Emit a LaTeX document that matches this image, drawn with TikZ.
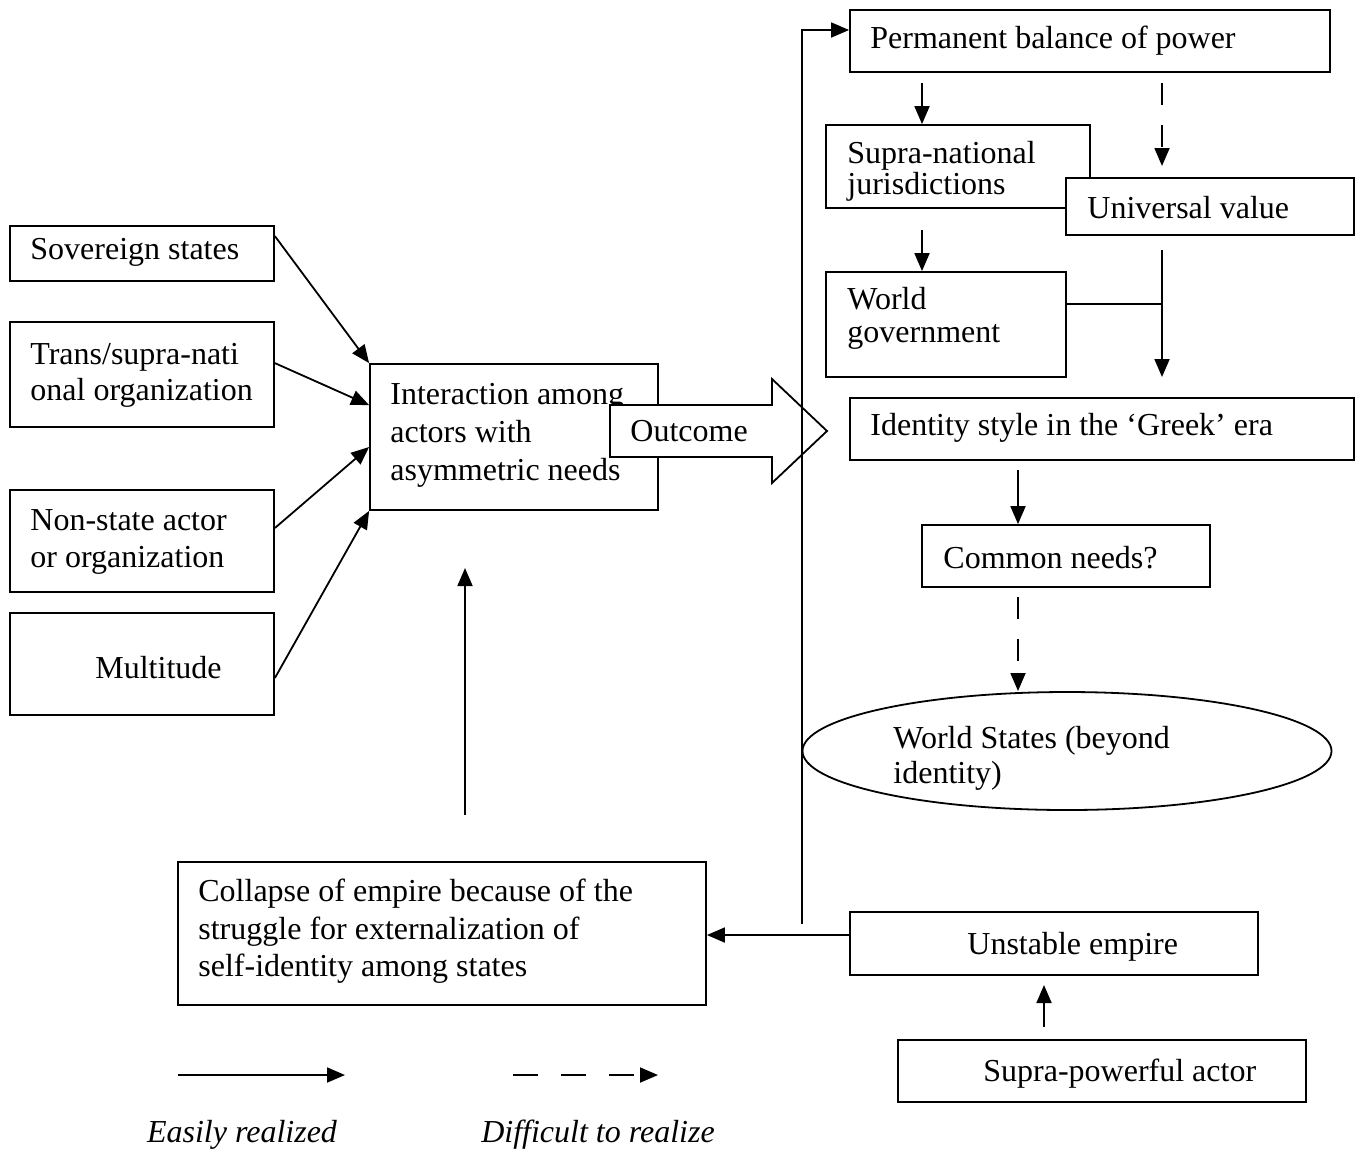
\documentclass[tikz,border=0pt]{standalone}
\usepackage{fontspec}
\setmainfont{Liberation Serif}
\usetikzlibrary{arrows.meta,shapes.geometric,calc}
\begin{document}
\begin{tikzpicture}[x=0.5pt,y=-0.5pt,
  box/.style={draw,line width=0.9pt,fill=white,inner sep=0pt},
  txt/.style={inner sep=0pt,anchor=west,align=left,yshift=-1.8pt,font=\fontsize{16}{19}\selectfont},
  conn/.style={line width=0.9pt},
  arr/.style={line width=0.9pt,-{Triangle[length=9pt,width=7.5pt]}},
  darr/.style={arr,dash pattern=on 11pt off 10pt},
  ldarr/.style={arr,dash pattern=on 12.5pt off 11.5pt}]
\useasboundingbox (0,0) rectangle (1359,1148);

% right column boxes
\node[box,minimum width=240pt,minimum height=31pt] (perm) at (1090,41) {};
\node[box,minimum width=132pt,minimum height=41.5pt] (supra) at (958,166.5) {};
\node[box,minimum width=144pt,minimum height=28.5pt] (univ) at (1210,206.5) {};
\node[box,minimum width=120pt,minimum height=52.5pt] (wg) at (946,324.5) {};
\node[box,minimum width=252pt,minimum height=31pt] (ident) at (1102,429) {};
\node[box,minimum width=144pt,minimum height=31pt] (common) at (1066,556) {};
\node[draw,ellipse,line width=0.9pt,minimum width=264.5pt,minimum height=59pt,inner sep=0pt] (ws) at (1067,751) {};

% left boxes
\node[box,minimum width=132pt,minimum height=27.5pt] (sov) at (142,253.5) {};
\node[box,minimum width=132pt,minimum height=52.5pt] (trans) at (142,374.5) {};
\node[box,minimum width=132pt,minimum height=51pt] (nonstate) at (142,541) {};
\node[box,minimum width=132pt,minimum height=51pt] (multi) at (142,664) {};
\node[box,minimum width=144pt,minimum height=73pt] (inter) at (514,437) {};

% bottom boxes
\node[box,minimum width=264pt,minimum height=71.5pt] (coll) at (442,933.5) {};
\node[box,minimum width=204pt,minimum height=31.5pt] (unst) at (1054,943.5) {};
\node[box,minimum width=204pt,minimum height=31pt] (spow) at (1102,1071) {};

% texts
\node[txt] (perm-t) at (870,37) {Permanent balance of power};
\node[txt,font=\fontsize{16}{15.5}\selectfont] (supra-t) at (847,168) {Supra-national\\jurisdictions};
\node[txt] (univ-t) at (1087,204) {Universal value};
\node[txt,font=\fontsize{16}{16.5}\selectfont] (wg-t) at (847,315) {World\\government};
\node[txt] (ident-t) at (870,424) {Identity style in the ‘Greek’ era};
\node[txt] (common-t) at (943,554) {Common needs?};
\node[txt,font=\fontsize{16}{17.5}\selectfont] (ws-t) at (893,755) {World States (beyond\\identity)};

\node[txt] (sov-t) at (30,249) {Sovereign states};
\node[txt,font=\fontsize{16}{18}\selectfont] (trans-t) at (30,372) {Trans/supra-nati\\onal organization};
\node[txt,font=\fontsize{16}{18.5}\selectfont] (nonstate-t) at (30,538) {Non-state actor\\or organization};
\node[txt] (multi-t) at (95,664) {Multitude};
\node[txt] (inter-t) at (390,432) {Interaction among\\actors with\\asymmetric needs};

\node[txt,font=\fontsize{16}{18.75}\selectfont] (coll-t) at (198,928) {Collapse of empire because of the\\struggle for externalization of\\self-identity among states};
\node[txt] (unst-t) at (967,943) {Unstable empire};
\node[txt] (spow-t) at (983,1070) {Supra-powerful actor};

% Outcome block arrow
\draw[line width=0.9pt,fill=white] (610,405) -- (772,405) -- (772,379) -- (827,431)
  -- (772,483) -- (772,457) -- (610,457) -- cycle;
\node[txt] (out-t) at (630,427) {Outcome};

% connectors right column
\coordinate (a1) at (922,83);
\draw[arr] (a1) -- (a1 |- supra.north);
\coordinate (a2) at (1162,83);
\coordinate (a2e) at (1162,166);
\draw[darr] (a2) -- (a2e);
\coordinate (a3) at (922,230);
\draw[arr] (a3) -- (a3 |- wg.north);
\coordinate (a4) at (1162,250);
\coordinate (a4e) at (1162,377);
\draw[arr] (a4) -- (a4e);
\coordinate (j1) at (1162,304);
\draw[conn] (j1 -| wg.east) -- (j1);
\coordinate (a5) at (1018,470);
\draw[arr] (a5) -- (a5 |- common.north);
\coordinate (a6) at (1018,597);
\coordinate (a6e) at (1018,691);
\draw[darr] (a6) -- (a6e);

% left arrows
\draw[arr] ([yshift=-5.5pt]sov.north east) -- (inter.north west);
\draw[arr] ([yshift=-21pt]trans.north east) -- ([yshift=-21pt]inter.north west);
\draw[arr] ([yshift=6.5pt]nonstate.east) -- ([yshift=-5pt]inter.west);
\draw[arr] ([yshift=-7pt]multi.east) -- (inter.south west);

% upward arrow
\coordinate (v1) at (465,815);
\coordinate (v2) at (465,568);
\draw[arr] (v1) -- (v2);

% bottom connectors
\coordinate (h1) at (850,935);
\draw[arr] (h1) -- (h1 -| coll.east);
\coordinate (vt) at (802,924);
\draw[arr] (vt) |- ([yshift=5.5pt]perm.west);
\coordinate (u1) at (1044,1027);
\coordinate (u1e) at (1044,985);
\draw[arr] (u1) -- (u1e);

% legend
\coordinate (l1) at (178,1075);
\coordinate (l2) at (345,1075);
\coordinate (l3) at (513,1075);
\coordinate (l4) at (658,1075);
\draw[arr] (l1) -- (l2);
\draw[ldarr] (l3) -- (l4);
\node[txt,anchor=center,font=\fontsize{16}{19}\selectfont\itshape] (leg1) at (242,1131) {Easily realized};
\node[txt,anchor=center,font=\fontsize{16}{19}\selectfont\itshape] (leg2) at (598,1131) {Difficult to realize};
\end{tikzpicture}
\end{document}
